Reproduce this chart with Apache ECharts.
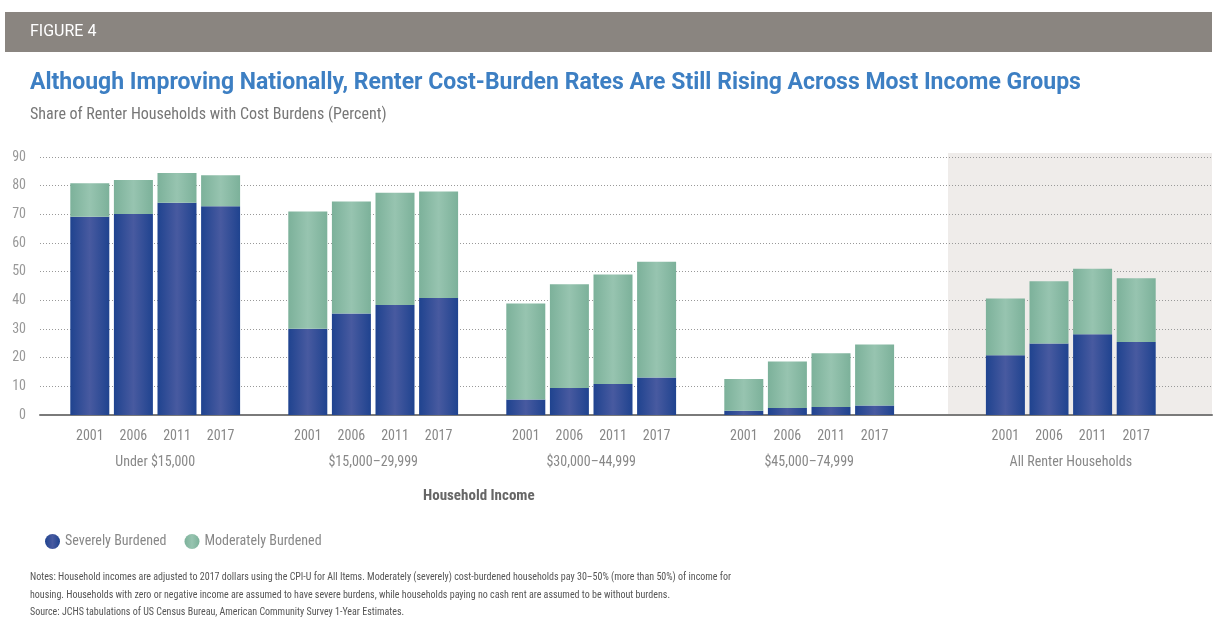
<!DOCTYPE html>
<html>
<head>
<meta charset="utf-8">
<title>Renter Cost Burdens</title>
<script src="https://cdn.jsdelivr.net/npm/echarts@6/dist/echarts.min.js"></script>
<style>
  html, body { margin: 0; padding: 0; background: #fff; }
  #chart { width: 1215px; height: 620px; }
</style>
</head>
<body>
<div id="chart"></div>
<script>
// groups of bars, one entry per income group
const groups = ['Under $15,000', '$15,000–29,999', '$30,000–44,999', '$45,000–74,999', 'All Renter Households'];
const years = ['2001', '2006', '2011', '2017'];
const severe = [
  [69.2, 70.1, 74.0, 72.8],
  [30.1, 35.4, 38.4, 40.8],
  [5.4, 9.4, 10.8, 13.1],
  [1.5, 2.4, 2.8, 3.3],
  [20.8, 24.9, 28.2, 25.5]
];
const moderate = [
  [11.6, 11.9, 10.4, 10.8],
  [40.9, 39.1, 39.1, 37.2],
  [33.5, 36.2, 38.2, 40.4],
  [11.1, 16.3, 18.7, 21.3],
  [19.8, 21.8, 22.8, 22.2]
];
// empty slots before each group (last group sits in the shaded panel)
const gapsBefore = [0, 1, 1, 1, 2];
const yTicks = [0, 10, 20, 30, 40, 50, 60, 70, 80, 90];

const FONT = "'Roboto Condensed', 'Liberation Sans Narrow', 'DejaVu Sans Condensed', Roboto, sans-serif";

// build slot lists for the category axis
let cats = [], sevData = [], modData = [], groupCenter = {};
groups.forEach((g, gi) => {
  for (let k = 0; k < gapsBefore[gi]; k++) {
    cats.push(''); sevData.push('-'); modData.push('-');
  }
  groupCenter[cats.length + years.length / 2] = g;
  years.forEach((y, yi) => {
    cats.push(y);
    sevData.push(severe[gi][yi]);
    modData.push(moderate[gi][yi]);
  });
});

const blueGrad = new echarts.graphic.LinearGradient(0, 0, 1, 0, [
  { offset: 0, color: '#1f438f' },
  { offset: 0.5, color: '#485aa0' },
  { offset: 1, color: '#1f438f' }
]);
const greenGrad = new echarts.graphic.LinearGradient(0, 0, 1, 0, [
  { offset: 0, color: '#7cb19a' },
  { offset: 0.5, color: '#97c4b0' },
  { offset: 1, color: '#7cb19a' }
]);

const myChart = echarts.init(document.getElementById('chart'));
myChart.setOption({
  animation: false,
  backgroundColor: '#fff',
  textStyle: { fontFamily: FONT },
  graphic: [
    { type: 'rect', left: 5, top: 12, shape: { width: 1207, height: 40 }, style: { fill: '#8a8580' }, z: 0 },
    { type: 'text', left: 30, top: 24, style: { text: 'FIGURE 4', fill: '#fff', font: '16px Roboto, sans-serif' }, z: 1 }
  ],
  title: [
    {
      text: 'Although Improving Nationally, Renter Cost-Burden Rates Are Still Rising Across Most Income Groups',
      left: 25, top: 67,
      textStyle: { color: '#3d7fc3', fontSize: 23, fontWeight: 'bold', fontFamily: 'Roboto, sans-serif' }
    },
    {
      text: 'Share of Renter Households with Cost Burdens (Percent)',
      left: 25, top: 102,
      textStyle: { color: '#777', fontSize: 16, fontWeight: 'normal' }
    },
    {
      text: 'Household Income',
      left: 418, top: 484,
      textStyle: { color: '#666', fontSize: 15, fontWeight: 'bold' }
    },
    {
      text: 'Notes: Household incomes are adjusted to 2017 dollars using the CPI-U for All Items. Moderately (severely) cost-burdened households pay 30–50% (more than 50%) of income for\nhousing. Households with zero or negative income are assumed to have severe burdens, while households paying no cash rent are assumed to be without burdens.\nSource: JCHS tabulations of US Census Bureau, American Community Survey 1-Year Estimates.',
      left: 25, top: 564,
      textStyle: { color: '#555', fontSize: 10, fontWeight: 'normal', lineHeight: 17.5 }
    }
  ],
  legend: {
    left: 40, top: 529,
    icon: 'circle',
    itemWidth: 15, itemHeight: 15, itemGap: 18,
    textStyle: { color: '#888', fontSize: 14 },
    data: ['Severely Burdened', 'Moderately Burdened']
  },
  grid: [
    { left: 40, right: 3, top: 157, bottom: 205 },
    { left: 68, width: 1090, top: 157, bottom: 205 },
    { left: 948, right: 3, top: 153, bottom: 205, show: true, backgroundColor: '#efecea', borderWidth: 0, z: -1 }
  ],
  xAxis: [
    {
      gridIndex: 0, type: 'value', min: 0, max: 1,
      axisLine: { show: true, onZero: false, lineStyle: { color: '#7a7a7a', width: 2 } },
      axisTick: { show: false }, axisLabel: { show: false }, splitLine: { show: false }, z: 3
    },
    {
      gridIndex: 1, type: 'category', data: cats,
      axisLine: { show: false }, axisTick: { show: false },
      axisLabel: { color: '#888', fontSize: 14, margin: 14, interval: 0 }
    },
    {
      gridIndex: 1, type: 'value', min: 0, max: cats.length, interval: 1, position: 'bottom',
      axisLine: { show: false }, axisTick: { show: false }, splitLine: { show: false },
      axisLabel: {
        color: '#888', fontSize: 14, margin: 40, showMinLabel: true, showMaxLabel: true,
        formatter: (v) => groupCenter[v] || ''
      }
    },
    { gridIndex: 2, type: 'value', show: false }
  ],
  yAxis: [
    {
      gridIndex: 0, type: 'value', min: 0, max: 90, interval: 10,
      axisLine: { show: false }, axisTick: { show: false },
      axisLabel: { color: '#999', fontSize: 14, margin: 14, formatter: (v) => yTicks.includes(v) ? String(v) : '' },
      splitLine: { lineStyle: { color: '#999', type: [1, 2], width: 1 } }
    },
    { gridIndex: 1, type: 'value', min: 0, max: 90, show: false },
    { gridIndex: 2, type: 'value', show: false }
  ],
  series: [
    {
      name: 'Severely Burdened', type: 'bar', stack: 'burden',
      xAxisIndex: 1, yAxisIndex: 1, barWidth: 39,
      itemStyle: { color: blueGrad },
      data: sevData, z: 4
    },
    {
      name: 'Moderately Burdened', type: 'bar', stack: 'burden',
      xAxisIndex: 1, yAxisIndex: 1, barWidth: 39,
      itemStyle: { color: greenGrad },
      data: modData, z: 4
    }
  ],
  color: ['#1f438f', '#7cb19a']
});
</script>
</body>
</html>
